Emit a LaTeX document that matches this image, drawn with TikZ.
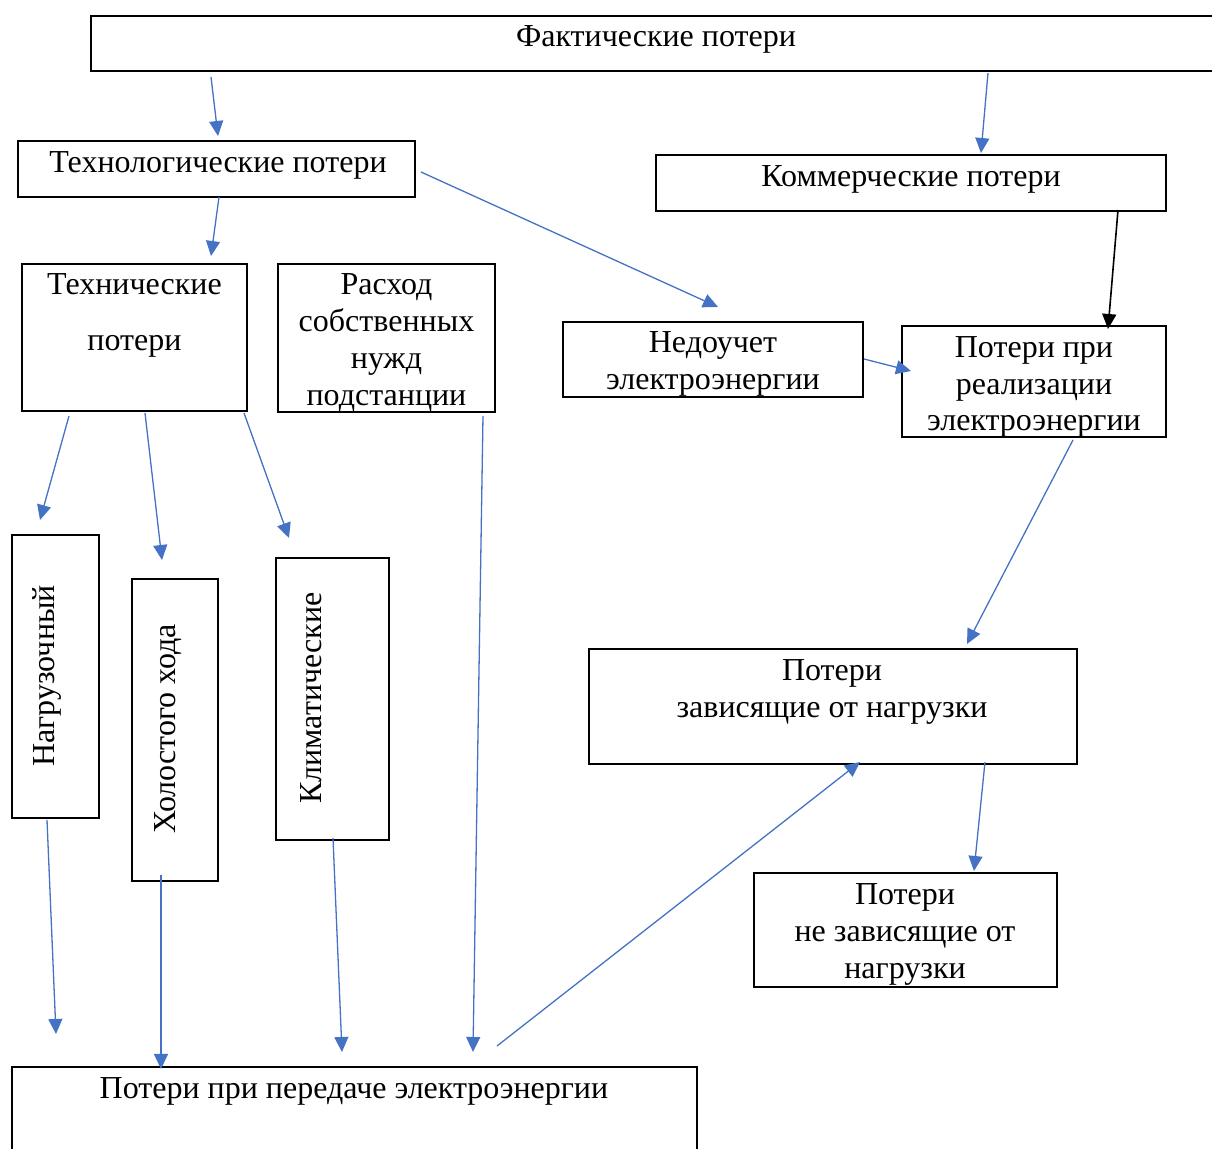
\documentclass[tikz,border=0pt]{standalone}
\usepackage{fontspec}
\setmainfont{Liberation Serif}
\usetikzlibrary{arrows.meta}
\definecolor{ablue}{HTML}{4472C4}
\begin{document}
\begin{tikzpicture}[x=0.5pt,y=-0.5pt,
  bx/.style 2 args={draw=black, line width=1pt, inner sep=0pt, minimum width=#1*0.5pt, minimum height=#2*0.5pt},
  lbl/.style={inner sep=0pt, anchor=base, font=\fontsize{16}{19}\selectfont},
  rlbl/.style={inner sep=0pt, anchor=center, rotate=90, font=\fontsize{16}{19}\selectfont},
  arr/.style={draw=ablue, line width=0.65pt, -{Triangle[length=7.5pt,width=7pt]}},
  barr/.style={draw=black, line width=0.8pt, -{Triangle[length=7.5pt,width=7pt]}}]
\useasboundingbox (0,0) rectangle (1212,1149);
\begin{scope}
\clip (0,0) rectangle (1212,1149);
% boxes
\node[bx={1130}{55}] (fact) at (656,43.5) {};
\node[bx={397}{56}] (techno) at (216.5,169) {};
\node[bx={510}{56}] (comm) at (911,183) {};
\node[bx={225}{147}] (tech) at (134.5,337.5) {};
\node[bx={217}{148}] (rash) at (386.5,338) {};
\node[bx={300}{75}] (nedo) at (713,359.5) {};
\node[bx={264}{111}] (real) at (1034,381.5) {};
\node[bx={87}{283}] (nagr) at (55.5,676.5) {};
\node[bx={86}{302}] (xx) at (175,730) {};
\node[bx={113}{282}] (klim) at (332.5,699) {};
\node[bx={488}{115}] (zav) at (833,706.5) {};
\node[bx={303}{114}] (nezav) at (905.5,930) {};
\node[bx={685}{93}] (pered) at (354.5,1113.5) {};
\end{scope}
% texts
\node[lbl] (tfact) at (656,47) {Фактические потери};
\node[lbl] (ttechno) at (218,173) {Технологические потери};
\node[lbl] (tcomm) at (911,187) {Коммерческие потери};
\node[lbl] (ttech1) at (134.5,295) {Технические};
\node[lbl] (ttech2) at (134.5,351) {потери};
\node[lbl] (trash1) at (386.5,295) {Расход};
\node[lbl] (trash2) at (386.5,332) {собственных};
\node[lbl] (trash3) at (386.5,369) {нужд};
\node[lbl] (trash4) at (386.5,406) {подстанции};
\node[lbl] (tnedo1) at (713,353) {Недоучет};
\node[lbl] (tnedo2) at (713,390) {электроэнергии};
\node[lbl] (treal1) at (1034,358) {Потери при};
\node[lbl] (treal2) at (1034,395) {реализации};
\node[lbl] (treal3) at (1034,431) {электроэнергии};
\node[rlbl] (tnagr) at (47,676) {Нагрузочный};
\node[rlbl] (txx) at (168,729) {Холостого хода};
\node[rlbl] (tklim) at (311,698) {Климатические};
\node[lbl] (tzav1) at (832,681) {Потери};
\node[lbl] (tzav2) at (832,718) {зависящие от нагрузки};
\node[lbl] (tnezav1) at (905,905) {Потери};
\node[lbl] (tnezav2) at (905,942) {не зависящие от};
\node[lbl] (tnezav3) at (905,979) {нагрузки};
\node[lbl] (tpered) at (354,1099) {Потери при передаче электроэнергии};
% connector end points
\coordinate (a1s) at (211,77);   \coordinate (a1e) at (218,136);
\coordinate (a2s) at (988,73);   \coordinate (a2e) at (981,153);
\coordinate (a3s) at (219,197);  \coordinate (a3e) at (211,256);
\coordinate (a4s) at (421,172);  \coordinate (a4e) at (718,307);
\coordinate (a5s) at (1118,210); \coordinate (a5e) at (1108,329);
\coordinate (a6s) at (864,359);  \coordinate (a6e) at (911,371);
\coordinate (a7s) at (69,416);   \coordinate (a7e) at (40,520);
\coordinate (a8s) at (145,413);  \coordinate (a8e) at (162,560);
\coordinate (a9s) at (244,413);  \coordinate (a9e) at (289,538);
\coordinate (a10s) at (483,416); \coordinate (a10e) at (473,1052);
\coordinate (a11s) at (1073,440);\coordinate (a11e) at (967,644);
\coordinate (a12s) at (985,762); \coordinate (a12e) at (974,871);
\coordinate (a13s) at (47,820);  \coordinate (a13e) at (56,1034);
\coordinate (a14s) at (161,875); \coordinate (a14e) at (161,1069);
\coordinate (a15s) at (333,838); \coordinate (a15e) at (342,1052);
\coordinate (a16s) at (497,1046);\coordinate (a16e) at (860,762);
% connectors
\draw[arr] (a1s) -- (a1e);
\draw[arr] (a2s) -- (a2e);
\draw[arr] (a3s) -- (a3e);
\draw[arr] (a4s) -- (a4e);
\draw[barr] (a5s) -- (a5e);
\draw[arr] (a6s) -- (a6e);
\draw[arr] (a7s) -- (a7e);
\draw[arr] (a8s) -- (a8e);
\draw[arr] (a9s) -- (a9e);
\draw[arr] (a10s) -- (a10e);
\draw[arr] (a11s) -- (a11e);
\draw[arr] (a12s) -- (a12e);
\draw[arr] (a13s) -- (a13e);
\draw[arr] (a14s) -- (a14e);
\draw[arr] (a15s) -- (a15e);
\draw[arr] (a16s) -- (a16e);
\end{tikzpicture}
\end{document}
